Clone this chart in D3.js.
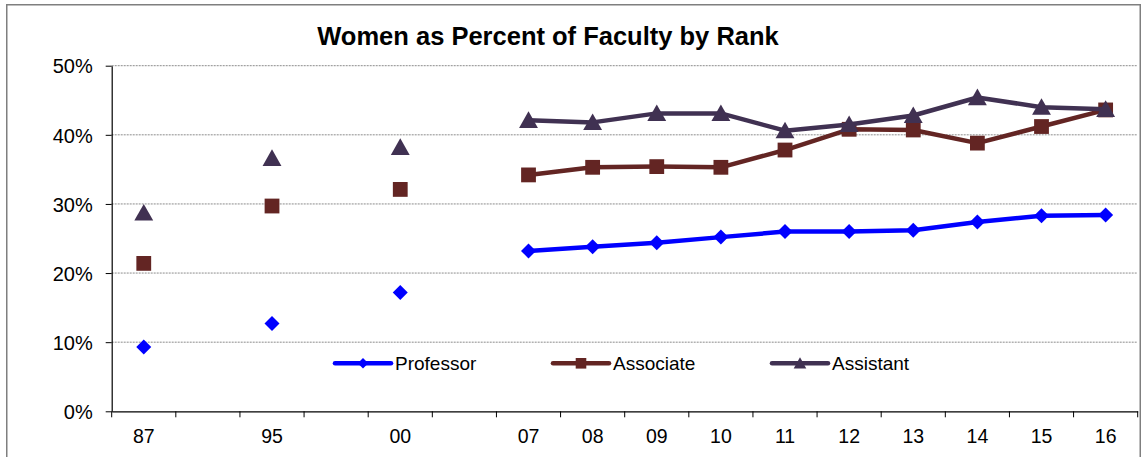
<!DOCTYPE html>
<html>
<head>
<meta charset="utf-8">
<script src="https://cdn.jsdelivr.net/npm/d3@7"></script>
<style>
  html, body { margin: 0; padding: 0; background: #fff; }
  svg { display: block; font-family: Arial, "Liberation Sans", sans-serif; }
</style>
</head>
<body>
<svg id="chart" width="1142" height="457"></svg>
<script>
// ---- data ----
const categories = ["87", "", "95", "", "00", "", "07", "08", "09", "10", "11", "12", "13", "14", "15", "16"];
const professor = [9.3, null, 12.7, null, 17.2, null, 23.2, 23.8, 24.4, 25.2, 26.0, 26.0, 26.2, 27.4, 28.3, 28.4];
const associate = [21.4, null, 29.7, null, 32.1, null, 34.2, 35.3, 35.4, 35.3, 37.8, 40.8, 40.7, 38.8, 41.2, 43.6];
const assistant = [28.7, null, 36.6, null, 38.2, null, 42.1, 41.8, 43.1, 43.1, 40.6, 41.5, 42.8, 45.4, 44.0, 43.7];
const yTicks = [0, 10, 20, 30, 40, 50];
const seriesNames = ["Professor", "Associate", "Assistant"];

const series = [
  { name: seriesNames[0], values: professor, color: "#0000FF", marker: "diamond" },
  { name: seriesNames[1], values: associate, color: "#632523", marker: "square" },
  { name: seriesNames[2], values: assistant, color: "#403152", marker: "triangle" }
];

const svg = d3.select("#chart");
const plot = { left: 111.7, right: 1137.7, top: 65.7, bottom: 411.3 };

// chart border
svg.append("rect")
  .attr("x", 6.75).attr("y", 4.75)
  .attr("width", 1133.5).attr("height", 460)
  .attr("fill", "none").attr("stroke", "#7f7f7f").attr("stroke-width", 1.5);

const x = d3.scaleBand().domain(d3.range(categories.length))
  .range([plot.left, plot.right]).paddingInner(0).paddingOuter(0);
const y = d3.scaleLinear().domain([0, 50]).range([plot.bottom, plot.top]);
const cx = i => x(i) + x.bandwidth() / 2;

// gridlines
svg.append("g").selectAll("line").data(yTicks.filter(t => t > 0)).join("line")
  .attr("x1", plot.left).attr("x2", plot.right)
  .attr("y1", d => y(d)).attr("y2", d => y(d))
  .attr("stroke", "#8c8c8c").attr("stroke-width", 1)
  .attr("stroke-dasharray", "2,1");

// y axis
const yAxis = svg.append("g").attr("transform", `translate(${plot.left},0)`)
  .call(d3.axisLeft(y).tickValues(yTicks).tickFormat(d => d + "%").tickSize(6).tickSizeOuter(0));
yAxis.select(".domain").attr("stroke", "#000").attr("stroke-width", 1.2);
yAxis.selectAll(".tick line").attr("stroke", "#000");
yAxis.selectAll(".tick text")
  .attr("font-size", 20).attr("font-family", "Arial, 'Liberation Sans', sans-serif")
  .attr("fill", "#000").attr("x", -19).attr("dy", "0.36em");

// x axis
const xAxis = svg.append("g").attr("transform", `translate(0,${plot.bottom})`)
  .call(d3.axisBottom(x).tickFormat(i => categories[i]).tickSize(0).tickSizeOuter(0));
xAxis.select(".domain").attr("stroke", "#000").attr("stroke-width", 1.2);
xAxis.selectAll(".tick line").remove();
xAxis.selectAll(".tick text")
  .attr("font-size", 19.5).attr("font-family", "Arial, 'Liberation Sans', sans-serif")
  .attr("fill", "#000").attr("y", 32).attr("dy", 0);
// boundary tick marks between categories
const bounds = d3.range(categories.length + 1).map(i => i < categories.length ? x(i) : x(categories.length - 1) + x.bandwidth());
xAxis.append("g").selectAll("line").data(bounds).join("line")
  .attr("x1", d => d).attr("x2", d => d).attr("y1", 0).attr("y2", 6)
  .attr("stroke", "#000").attr("stroke-width", 1);

// title
svg.append("text").attr("x", 548).attr("y", 45).attr("text-anchor", "middle")
  .attr("font-size", 25.5).attr("font-weight", "bold").attr("fill", "#000")
  .text("Women as Percent of Faculty by Rank");

function markerPath(type, s) {
  if (type === "diamond") return `M0,${-s}L${s},0L0,${s}L${-s},0Z`;
  if (type === "square") return `M${-s},${-s}H${s}V${s}H${-s}Z`;
  // triangle
  return `M0,${-s}L${s * 1.05},${s * 0.85}L${-s * 1.05},${s * 0.85}Z`;
}

// lines and markers
const line = d3.line().defined(d => d.v != null).x(d => cx(d.i)).y(d => y(d.v));
series.forEach(s => {
  const pts = s.values.map((v, i) => ({ i, v }));
  svg.append("path").datum(pts)
    .attr("d", line).attr("fill", "none")
    .attr("stroke", s.color).attr("stroke-width", 4.5)
    .attr("stroke-linejoin", "round").attr("stroke-linecap", "round");
  const size = s.marker === "diamond" ? 7.5 : (s.marker === "square" ? 7.4 : 9);
  svg.append("g").selectAll("path").data(pts.filter(d => d.v != null)).join("path")
    .attr("transform", d => `translate(${cx(d.i)},${y(d.v)})`)
    .attr("d", markerPath(s.marker, size))
    .attr("fill", s.color);
});

// legend
const legendX = [335, 553, 772];
const legendY = 363.3;
series.forEach((s, k) => {
  const g = svg.append("g").attr("transform", `translate(${legendX[k]},${legendY})`);
  g.append("line").attr("x1", 0).attr("x2", 56).attr("y1", 0).attr("y2", 0)
    .attr("stroke", s.color).attr("stroke-width", 4.5).attr("stroke-linecap", "round");
  g.append("path").attr("transform", "translate(28,0)")
    .attr("d", markerPath(s.marker, s.marker === "triangle" ? 6 : 5.3)).attr("fill", s.color);
  g.append("text").attr("x", 60).attr("y", 0).attr("dy", "0.36em")
    .attr("font-size", 19).attr("fill", "#000").text(s.name);
});
</script>
</body>
</html>
